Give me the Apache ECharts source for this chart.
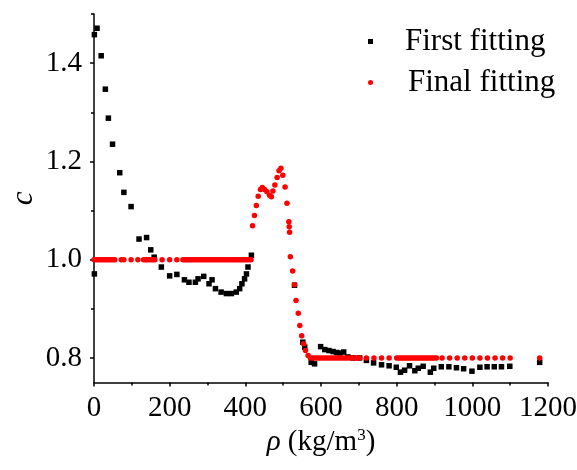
<!DOCTYPE html>
<html><head><meta charset="utf-8">
<script src="https://cdn.jsdelivr.net/npm/echarts@6/dist/echarts.min.js"></script>
<style>html,body{margin:0;padding:0;background:#fff}#c{width:577px;height:470px}</style>
</head><body><div id="c"></div>
<script>
const firstX = [1, 1, 8, 19, 30, 38, 49, 68, 79, 98, 119, 139, 150, 159, 178, 200, 219, 239, 251, 268, 275, 290, 304, 312, 321, 336, 350, 363, 376, 385, 391, 398, 403, 407, 416,
  530, 552, 557, 574, 583, 599, 610, 621, 632, 641, 650, 660, 671, 685, 702, 720, 739, 760, 780, 799, 810, 821, 834, 848, 857, 870, 889, 898,
  918, 938, 958, 977, 999, 1020, 1039, 1058, 1077, 1099, 1178];
const firstY = [0.971, 1.458, 1.471, 1.415, 1.347, 1.288, 1.235, 1.177, 1.137, 1.108, 1.042, 1.045, 1.020, 1.005, 0.985, 0.967, 0.970, 0.959, 0.954, 0.954, 0.961, 0.966, 0.951, 0.959, 0.941, 0.934, 0.931, 0.931, 0.934, 0.941, 0.951, 0.961, 0.971, 0.985, 1.009,
  0.948, 0.832, 0.822, 0.791, 0.788, 0.823, 0.817, 0.815, 0.813, 0.811, 0.810, 0.812, 0.802, 0.800, 0.800, 0.795, 0.790, 0.786, 0.784, 0.781, 0.771, 0.775, 0.784, 0.774, 0.779, 0.783, 0.771, 0.779,
  0.782, 0.782, 0.780, 0.778, 0.773, 0.781, 0.782, 0.782, 0.782, 0.783, 0.791];

const finalX = [0, 5, 10, 15, 20, 25, 30, 35, 40, 45, 50, 55, 72, 79, 98, 116, 131, 136, 141, 146, 151, 156, 161, 180, 200, 219,
  235, 240, 245, 250, 255, 260, 265, 270, 275, 280, 285, 290, 295, 300, 305, 310, 315, 320, 325, 330, 335, 340, 345, 350, 355, 360, 365, 370, 375, 380, 385, 390, 395, 400, 405, 410, 415,
  419, 424, 429, 434, 440, 445, 451, 457, 464, 469, 473, 478, 484, 489, 494, 499, 505, 510, 515, 516, 517, 519, 525, 530, 534, 540, 544, 549, 554, 559, 566, 572,
  578, 584, 590, 596, 602, 608, 614, 620, 626, 632, 638, 644, 650, 656, 662, 668, 674, 680, 686, 692, 698, 703,
  720, 740, 760, 780, 800, 805, 810, 815, 820, 825, 830, 835, 840, 845, 850, 855, 860, 865, 870, 875, 880, 885, 890, 895, 900, 905,
  920, 940, 960, 980, 1000, 1020, 1040, 1060, 1080, 1100, 1178];
const finalY = [1.0, 1.0, 1.0, 1.0, 1.0, 1.0, 1.0, 1.0, 1.0, 1.0, 1.0, 1.0, 1.0, 1.0, 1.0, 1.0, 1.0, 1.0, 1.0, 1.0, 1.0, 1.0, 1.0, 1.0, 1.0, 1.0,
  1.0, 1.0, 1.0, 1.0, 1.0, 1.0, 1.0, 1.0, 1.0, 1.0, 1.0, 1.0, 1.0, 1.0, 1.0, 1.0, 1.0, 1.0, 1.0, 1.0, 1.0, 1.0, 1.0, 1.0, 1.0, 1.0, 1.0, 1.0, 1.0, 1.0, 1.0, 1.0, 1.0, 1.0, 1.0, 1.0, 1.0,
  1.069, 1.090, 1.110, 1.129, 1.143, 1.147, 1.143, 1.138, 1.131, 1.128, 1.140, 1.152, 1.167, 1.181, 1.186, 1.172, 1.148, 1.115, 1.077, 1.067, 1.056, 1.006, 0.977, 0.949, 0.917, 0.891, 0.866, 0.845, 0.829, 0.815, 0.805, 0.800,
  0.8, 0.8, 0.8, 0.8, 0.8, 0.8, 0.8, 0.8, 0.8, 0.8, 0.8, 0.8, 0.8, 0.8, 0.8, 0.8, 0.8, 0.8, 0.8, 0.8, 0.8, 0.8,
  0.8, 0.8, 0.8, 0.8, 0.8, 0.8, 0.8, 0.8, 0.8, 0.8, 0.8, 0.8, 0.8, 0.8, 0.8, 0.8, 0.8, 0.8, 0.8, 0.8, 0.8, 0.8, 0.8, 0.8, 0.8, 0.8,
  0.8, 0.8, 0.8, 0.8, 0.8, 0.8, 0.8, 0.8, 0.8, 0.8, 0.8];

const seriesNames = ['First fitting', 'Final fitting'];
const yLabelTicks = [0.8, 1.0, 1.2, 1.4];
const yMinorTicks = [0.9, 1.1, 1.3, 1.5];

const FONT = 'Liberation Serif';
const firstData = firstX.map((x, i) => [x, firstY[i]]);
const finalData = finalX.map((x, i) => [x, finalY[i]]);

const chart = echarts.init(document.getElementById('c'), null, {renderer: 'canvas'});
const axisLine = {show: true, onZero: false, lineStyle: {color: '#000', width: 1.5}};
chart.setOption({
  animation: false,
  backgroundColor: '#fff',
  grid: {left: 94, right: 29, top: 14, bottom: 87.5, containLabel: false, outerBoundsMode: 'none'},
  legend: {
    orient: 'vertical', left: 363, top: 21, itemGap: 10, itemWidth: 5, itemHeight: 5,
    selectedMode: false,
    textStyle: {fontFamily: FONT, fontSize: 31, color: '#000', lineHeight: 31, padding: [0, 0, 0, 27]},
    data: [
      {name: seriesNames[0], icon: 'rect', itemStyle: {color: '#000', opacity: 1}},
      {name: seriesNames[1], icon: 'circle', itemStyle: {color: '#ff0000', opacity: 1}, textStyle: {padding: [0, 0, 0, 30]}}
    ]
  },
  xAxis: {
    type: 'value', min: 0, max: 1200, interval: 200,
    axisLine: axisLine,
    axisTick: {show: true, length: 4, lineStyle: {color: '#000', width: 1.5}},
    minorTick: {show: true, splitNumber: 2, length: 3, lineStyle: {color: '#000', width: 1.5}},
    splitLine: {show: false}, minorSplitLine: {show: false},
    axisLabel: {fontFamily: FONT, fontSize: 29, color: '#000', margin: 11, formatter: v => String(v)},
    name: '{i|ρ} (kg/m{s|3})', nameLocation: 'middle', nameGap: 45, nameMoveOverlap: false,
    nameTextStyle: {fontFamily: FONT, fontSize: 29, color: '#000',
      rich: {i: {fontFamily: FONT, fontSize: 29, fontStyle: 'italic'}, s: {fontFamily: FONT, fontSize: 17, verticalAlign: 'top', padding: [0, 0, 10, 0]}}}
  },
  yAxis: [{
    type: 'value', min: 0.75, max: 1.5,
    axisLine: axisLine,
    axisTick: {show: true, length: 4, customValues: yLabelTicks, lineStyle: {color: '#000', width: 1.5}},
    axisLabel: {fontFamily: FONT, fontSize: 29, color: '#000', margin: 12, customValues: yLabelTicks, formatter: v => v.toFixed(1)},
    splitLine: {show: false},
    name: 'c', nameLocation: 'middle', nameGap: 55, nameRotate: 90, nameMoveOverlap: false,
    nameTextStyle: {fontFamily: FONT, fontSize: 31, fontStyle: 'italic', color: '#000'}
  }, {
    type: 'value', min: 0.75, max: 1.5, position: 'left', offset: 0,
    axisLine: {show: false},
    axisTick: {show: true, length: 3, customValues: yMinorTicks, lineStyle: {color: '#000', width: 1.5}},
    axisLabel: {show: false},
    splitLine: {show: false}
  }],
  series: [
    {name: seriesNames[0], type: 'scatter', symbol: 'rect', symbolSize: 5.5, itemStyle: {color: '#000', opacity: 1}, data: firstData},
    {name: seriesNames[1], type: 'scatter', symbol: 'circle', symbolSize: 5.5, itemStyle: {color: '#ff0000', opacity: 1}, data: finalData}
  ]
});
</script></body></html>
